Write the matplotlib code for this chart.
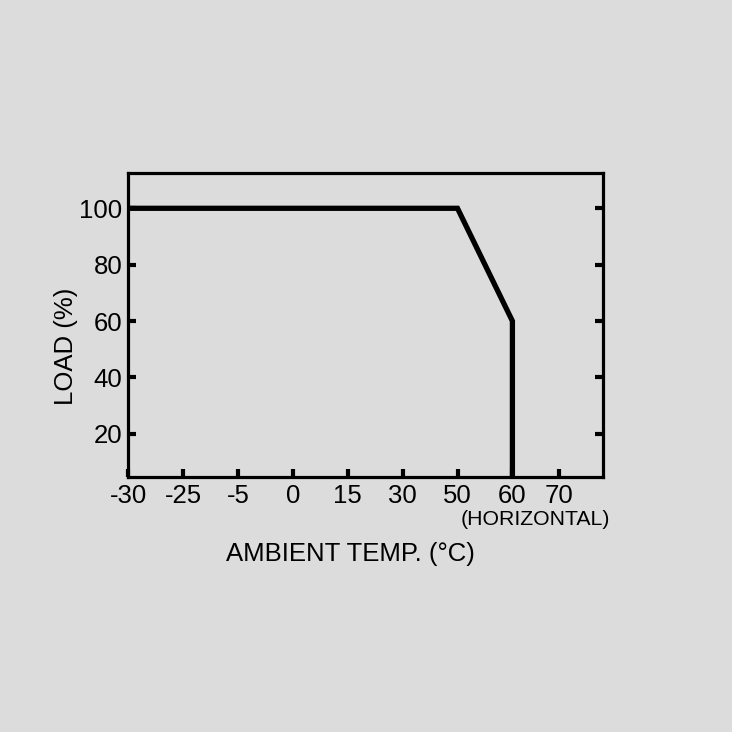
import matplotlib.pyplot as plt

plt.rcParams['font.family'] = ['Liberation Sans', 'DejaVu Sans']

# category labels on the temperature axis (not evenly spaced values)
temp_labels = ['-30', '-25', '-5', '0', '15', '30', '50', '60', '70']
temp_pos = [0, 1, 2, 3, 4, 5, 6, 7, 7.85]

# derating curve: (temperature category, load %)
curve_temp = ['-30', '50', '60', '60']
curve_load = [100, 100, 60, 0]

load_ticks = [20, 40, 60, 80, 100]

bg = '#dcdcdc'
fig = plt.figure(figsize=(7.32, 7.32), dpi=100, facecolor=bg)
ax = fig.add_axes([0.1749, 0.348, 0.6489, 0.4152], facecolor=bg)

pos = dict(zip(temp_labels, temp_pos))
xs = [pos[t] for t in curve_temp]
ax.plot(xs, curve_load, color='black', lw=3.8, solid_joinstyle='miter', clip_on=True)

ax.set_xlim(0, 8.65)
ax.set_ylim(4.6, 112.4)
ax.set_xticks(temp_pos)
ax.set_xticklabels(temp_labels)
ax.set_yticks(load_ticks)

for s in ax.spines.values():
    s.set_linewidth(2.3)
ax.tick_params(direction='in', length=6, width=3, labelsize=18.5, pad=4,
               right=True, top=False)
ax.tick_params(axis='x', pad=5)

ax.set_ylabel('LOAD (%)', fontsize=18.5)
ax.yaxis.set_label_coords(-0.106, 0.43)
ax.set_xlabel('AMBIENT TEMP. (°C)', fontsize=18.5)
ax.xaxis.set_label_coords(0.469, -0.214)
ax.text(1.015, -0.14, '(HORIZONTAL)', transform=ax.transAxes, ha='right',
        va='center', fontsize=15.3)

fig.savefig('out.png', dpi=100, facecolor=bg)
